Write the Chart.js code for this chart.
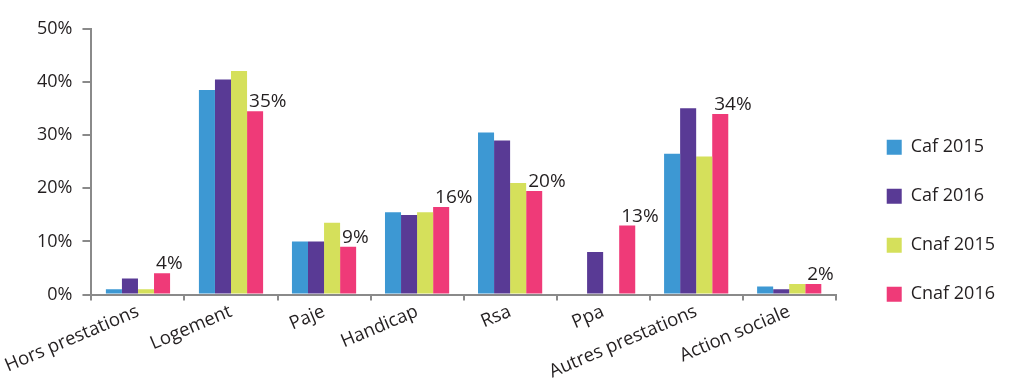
<!DOCTYPE html>
<html>
<head>
<meta charset="utf-8">
<script src="https://cdn.jsdelivr.net/npm/chart.js@4"></script>
<style>
  html, body { margin: 0; padding: 0; background: #fff; }
  #wrap { width: 1009px; height: 380px; }
</style>
</head>
<body>
<div id="wrap"><canvas id="chart"></canvas></div>
<script>
// data (percent)
const categories = ['Hors prestations', 'Logement', 'Paje', 'Handicap', 'Rsa', 'Ppa', 'Autres prestations', 'Action sociale'];
const caf2015  = [1.0, 38.5, 10.0, 15.5, 30.5, null, 26.5, 1.5];
const caf2016  = [3.0, 40.5, 10.0, 15.0, 29.0, 8.0, 35.1, 1.0];
const cnaf2015 = [1.0, 42.1, 13.5, 15.5, 21.0, null, 26.0, 2.0];
const cnaf2016 = [4.0, 34.5, 9.0, 16.5, 19.5, 13.0, 34.0, 2.0];
const cnaf2016Labels = ['4%', '35%', '9%', '16%', '20%', '13%', '34%', '2%'];
const yTicks = [0, 10, 20, 30, 40, 50];

const FONT = '"Open Sans", Lato, sans-serif';
const AXIS = '#8a8a8a';
const TEXT = '#231f20';

// values printed above the Cnaf 2016 bars
const barLabels = {
    id: 'barLabels',
    afterDatasetsDraw(chart) {
        const ctx = chart.ctx;
        const meta = chart.getDatasetMeta(3);
        ctx.save();
        ctx.font = '19px ' + FONT;
        ctx.fillStyle = TEXT;
        ctx.textAlign = 'left';
        ctx.textBaseline = 'alphabetic';
        meta.data.forEach((bar, i) => {
            ctx.fillText(cnaf2016Labels[i], bar.x - bar.width / 2 + 2, bar.y - 4);
        });
        ctx.restore();
    }
};

new Chart(document.getElementById('chart').getContext('2d'), {
    type: 'bar',
    data: {
        labels: categories,
        datasets: [
            { label: 'Caf 2015', data: caf2015, backgroundColor: '#3d98d3' },
            { label: 'Caf 2016', data: caf2016, backgroundColor: '#593a95' },
            { label: 'Cnaf 2015', data: cnaf2015, backgroundColor: '#d5e05b' },
            { label: 'Cnaf 2016', data: cnaf2016, backgroundColor: '#ef3a78' }
        ]
    },
    options: {
        responsive: true,
        maintainAspectRatio: false,
        animation: false,
        datasets: {
            bar: { categoryPercentage: 0.69, barPercentage: 1.0 }
        },
        layout: { padding: { left: 27, right: 4, top: 29, bottom: -3 } },
        scales: {
            x: {
                grid: { display: true, drawOnChartArea: false, drawTicks: true, tickLength: 6, color: AXIS, lineWidth: 2, offset: true },
                border: { color: AXIS, width: 2 },
                ticks: {
                    color: TEXT,
                    font: { family: FONT, size: 18.5 },
                    minRotation: 23,
                    maxRotation: 23,
                    autoSkip: false,
                    padding: 0
                }
            },
            y: {
                min: 0,
                max: 50,
                afterBuildTicks(scale) {
                    scale.ticks = yTicks.map(v => ({ value: v }));
                },
                grid: { display: true, drawOnChartArea: false, drawTicks: true, tickLength: 9, color: AXIS, lineWidth: 2 },
                border: { color: AXIS, width: 2 },
                ticks: {
                    color: TEXT,
                    font: { family: FONT, size: 18 },
                    padding: 10,
                    callback: v => v + '%'
                }
            },
            // empty axis used only as a gap between the plot and the legend
            gap: {
                type: 'linear',
                position: 'right',
                display: true,
                grid: { display: false },
                border: { display: false },
                ticks: { display: false },
                afterFit(scale) { scale.width = 20; }
            }
        },
        plugins: {
            legend: {
                position: 'right',
                align: 'center',
                title: { display: true, text: '', padding: { top: 0, bottom: 15 } },
                labels: {
                    color: TEXT,
                    font: { family: FONT, size: 18 },
                    boxWidth: 15,
                    boxHeight: 15,
                    padding: 31
                }
            },
            tooltip: { enabled: false }
        }
    },
    plugins: [barLabels]
});
</script>
</body>
</html>
